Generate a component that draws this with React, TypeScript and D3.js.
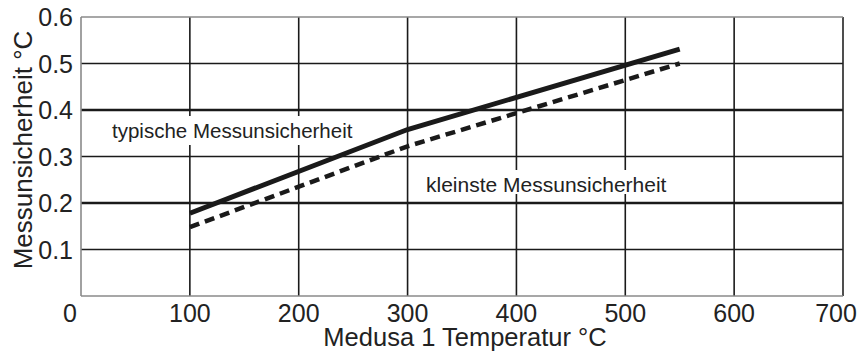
import React from "react";
import * as d3 from "d3";

const typTemps = [100, 300, 550];
const typValues = [0.178, 0.358, 0.531];
const minTemps = [100, 300, 550];
const minValues = [0.148, 0.322, 0.5];
const xTicks = [0, 100, 200, 300, 400, 500, 600, 700];
const yTicks = [0.1, 0.2, 0.3, 0.4, 0.5, 0.6];
const thickY = [0.2, 0.4];

const W = 860, H = 352;
const L = 81, R = 843, T = 17, B = 296;

export default function App() {
  const x = d3.scaleLinear().domain([0, 700]).range([L, R]);
  const y = d3.scaleLinear().domain([0, 0.6]).range([B, T]);
  const line = d3.line<[number, number]>().x(d => x(d[0])).y(d => y(d[1]));
  const typ = line(typTemps.map((t, i) => [t, typValues[i]] as [number, number]))!;
  const min = line(minTemps.map((t, i) => [t, minValues[i]] as [number, number]))!;
  const font = "'Liberation Sans', Arial, sans-serif";
  const xLabelPos = (v: number) => (v === 0 ? 70 : Math.min(x(v), 836));
  return (
    <svg width={W} height={H} style={{ position: "absolute", left: 0, top: 0, background: "#fff" }} fontFamily={font}>
      <rect x={0} y={0} width={W} height={H} fill="#fff" />
      {yTicks.filter(v => v < 0.6).map(v => (
        <line key={"h" + v} x1={L} x2={R} y1={y(v)} y2={y(v)} stroke="#1a1a1a" strokeWidth={thickY.includes(v) ? 2.6 : 1.5} />
      ))}
      {xTicks.filter(v => v > 0 && v < 700).map(v => (
        <line key={"v" + v} x1={x(v)} x2={x(v)} y1={T} y2={B} stroke="#1a1a1a" strokeWidth={1.6} />
      ))}
      <line x1={x(700)} x2={x(700)} y1={T} y2={B} stroke="#222" strokeWidth={1.6} />
      <line x1={L} x2={R} y1={T} y2={T} stroke="#8a8a8a" strokeWidth={1.6} />
      <line x1={L} x2={R} y1={B} y2={B} stroke="#8a8a8a" strokeWidth={1.6} />
      <line x1={L} x2={L} y1={T} y2={B} stroke="#8a8a8a" strokeWidth={1.6} />
      <rect x={108} y={116} width={256} height={29} fill="#fff" />
      <rect x={422} y={170} width={252} height={24} fill="#fff" />
      <path d={typ} fill="none" stroke="#1a1a1a" strokeWidth={5} />
      <path d={min} fill="none" stroke="#1a1a1a" strokeWidth={4.5} strokeDasharray="10 6" />
      <text x={112} y={138} fontSize={20.5} fill="#222">typische Messunsicherheit</text>
      <text x={426} y={192} fontSize={21} fill="#222">kleinste Messunsicherheit</text>
      {yTicks.map(v => (
        <text key={"yl" + v} x={73} y={y(v) + 9} fontSize={25} textAnchor="end" fill="#222">{v.toFixed(1)}</text>
      ))}
      {xTicks.map(v => (
        <text key={"xl" + v} x={xLabelPos(v)} y={322} fontSize={25} textAnchor="middle" fill="#222">{v}</text>
      ))}
      <text x={465} y={346} fontSize={25.5} textAnchor="middle" fill="#222">Medusa 1 Temperatur °C</text>
      <text transform={`translate(32,150) rotate(-90)`} fontSize={26} textAnchor="middle" fill="#222">Messunsicherheit °C</text>
    </svg>
  );
}
